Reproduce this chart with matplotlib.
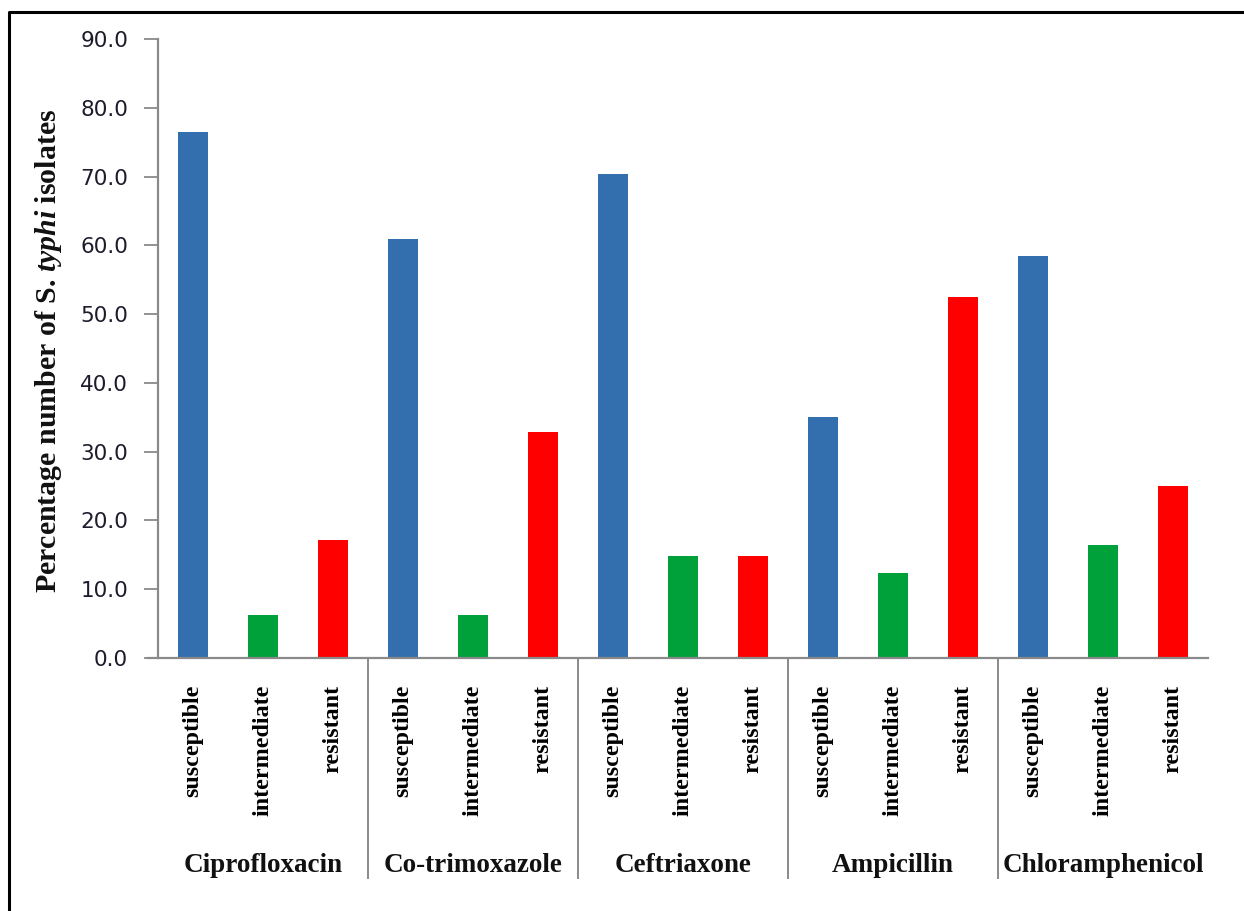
import matplotlib
matplotlib.use("Agg")
import matplotlib.pyplot as plt
from matplotlib.lines import Line2D
import matplotlib.transforms as mtransforms

# Antibiotic susceptibility of S. typhi isolates (%)
antibiotics = ["Ciprofloxacin", "Co-trimoxazole", "Ceftriaxone", "Ampicillin", "Chloramphenicol"]
categories = ["susceptible", "intermediate", "resistant"]
susceptible = [76.5, 60.9, 70.3, 35.0, 58.5]
intermediate = [6.2, 6.2, 14.8, 12.4, 16.5]
resistant = [17.1, 32.8, 14.8, 52.5, 25.0]
yticks = [0, 10, 20, 30, 40, 50, 60, 70, 80, 90]

colors = {"susceptible": "#336EAE", "intermediate": "#00A03A", "resistant": "#FF0000"}

plt.rcParams["mathtext.fontset"] = "custom"
plt.rcParams["mathtext.it"] = "Liberation Serif:italic:bold"
plt.rcParams["mathtext.rm"] = "Liberation Serif:bold"

W, H = 1244, 911
fig = plt.figure(figsize=(W / 100, H / 100), dpi=100)
fig.patch.set_facecolor("white")

ax_left, ax_right, ax_top, ax_bottom = 158, 1208, 39, 658
ax = fig.add_axes([ax_left / W, 1 - ax_bottom / H,
                   (ax_right - ax_left) / W, (ax_bottom - ax_top) / H])

series = {"susceptible": susceptible, "intermediate": intermediate, "resistant": resistant}
n_cat = len(categories)
positions, heights, bar_colors, labels = [], [], [], []
for g, name in enumerate(antibiotics):
    for c, cat in enumerate(categories):
        positions.append(g * n_cat + c)
        heights.append(series[cat][g])
        bar_colors.append(colors[cat])
        labels.append(cat)

ax.bar(positions, heights, width=0.42, color=bar_colors, zorder=2)

ax.set_xlim(-0.5, len(positions) - 0.5)
ax.set_ylim(0, 90)
ax.set_yticks(yticks)
ax.set_yticklabels([f"{v:.1f}" for v in yticks], fontsize=15.5,
                   family="DejaVu Sans", color="#1c1c2c")
ax.tick_params(axis="y", length=10, width=1.3, color="#8a8a8a", pad=11.5)

ax.set_xticks(positions)
ax.set_xticklabels(labels, rotation=90, va="top", ha="center",
                   family="Liberation Serif", fontweight="bold", fontsize=17.3)
ax.tick_params(axis="x", length=0, pad=19.5)

for side in ("top", "right"):
    ax.spines[side].set_visible(False)
for side in ("left", "bottom"):
    ax.spines[side].set_color("#8a8a8a")
    ax.spines[side].set_linewidth(1.6)
ax.spines["bottom"].set_bounds(-0.5 - 10 / 70, len(positions) - 0.5)

# Group separators and antibiotic names under the bar labels
trans = mtransforms.blended_transform_factory(ax.transData, ax.transAxes)
sep_bottom = -(878 - ax_bottom) / (ax_bottom - ax_top)
for g in range(1, len(antibiotics)):
    xs = g * n_cat - 0.5
    ax.add_line(Line2D([xs, xs], [0, sep_bottom], transform=trans,
                       color="#8a8a8a", lw=1.4, clip_on=False))

name_y = -(872 - ax_bottom) / (ax_bottom - ax_top)
for g, name in enumerate(antibiotics):
    ax.text(g * n_cat + 1, name_y, name, transform=trans, ha="center",
            va="baseline", family="Liberation Serif", fontweight="bold",
            fontsize=19.5, color="#111111")

fig.text(49 / W, 1 - 351 / H, r"Percentage number of S. $\mathit{typhi}$ isolates",
         rotation=90, ha="center", va="center", family="Liberation Serif",
         fontweight="bold", fontsize=21.5, color="#111111")

# Frame along the top and left edges
fy = 1 - 12 / H
fx = 9 / W
fig.add_artist(Line2D([fx, fx, 1.0], [0.0, fy, fy], transform=fig.transFigure,
                      color="black", lw=2.2))

fig.savefig("out.png", dpi=100)
